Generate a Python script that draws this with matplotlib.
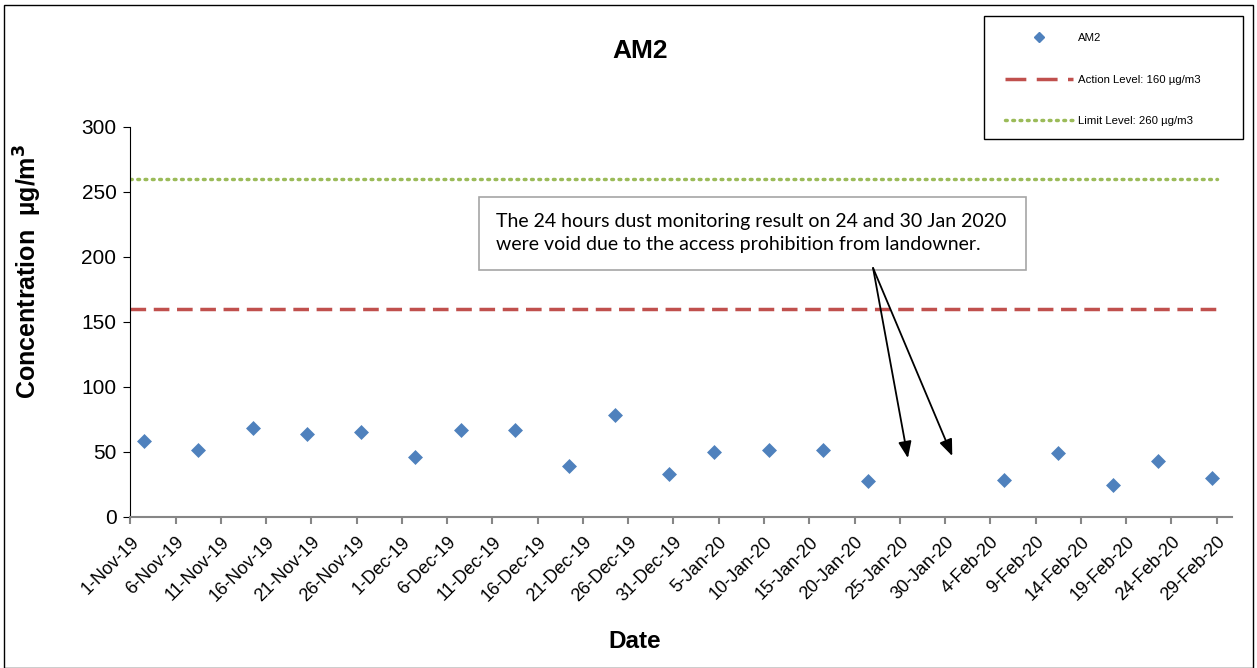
import matplotlib
matplotlib.use("Agg")
import matplotlib.pyplot as plt
import matplotlib.dates as mdates
from matplotlib.lines import Line2D
from matplotlib.patches import Rectangle
import numpy as np
import datetime as dt

plt.rcParams['font.family'] = ['Liberation Sans', 'DejaVu Sans']

# ---- data ----
dates = ["2019-11-02", "2019-11-08", "2019-11-14", "2019-11-20", "2019-11-26",
         "2019-12-02", "2019-12-07", "2019-12-13", "2019-12-19", "2019-12-24",
         "2019-12-30", "2020-01-04", "2020-01-10", "2020-01-16", "2020-01-21",
         "2020-02-05", "2020-02-11", "2020-02-17", "2020-02-22", "2020-02-28"]
am2 = [58.5, 51.5, 68.5, 63.8, 65.1, 46.2, 66.7, 66.4, 39.2, 78.5,
       32.8, 50.0, 51.0, 51.5, 27.7, 28.5, 49.2, 24.4, 42.6, 29.5]
action_level = 160
limit_level = 260
tick_start = "2019-11-01"
tick_end = "2020-02-29"
tick_step_days = 5
legend_labels = ['AM2', 'Action Level: 160 µg/m3', 'Limit Level: 260 µg/m3']
note = ("The 24 hours dust monitoring result on 24 and 30 Jan 2020\n"
        "were void due to the access prohibition from landowner.")

W, H = 1257, 668
fig = plt.figure(figsize=(W / 100, H / 100), dpi=100)
fig.patches.append(Rectangle((0.003, 0.0), 0.994, 0.993, transform=fig.transFigure,
                             fill=False, edgecolor='black', linewidth=1.0))
ax = fig.add_axes([130.3 / W, 1 - 516.7 / H, (1232 - 130.3) / W, 390 / H])

blue, red, green = '#4F81BD', '#C0504D', '#9BBB59'
dash = (0, (4.5, 2.2))
dots = (0, (0.5, 1.6))

x0 = mdates.date2num(dt.datetime.fromisoformat(tick_start))
x1 = mdates.date2num(dt.datetime.fromisoformat(tick_end))
# day-centered positions (date axis, between tick marks)
x = [mdates.date2num(dt.datetime.fromisoformat(d)) + 0.5 for d in dates]
ax.scatter(x, am2, marker='D', s=58, color=blue, zorder=3, linewidths=0)

ax.plot([x0, x1], [action_level] * 2, color=red, lw=2.5, ls=dash)
ax.plot([x0, x1], [limit_level] * 2, color=green, lw=2.5, ls=dots, dash_capstyle='round')

ax.set_xlim(x0, x0 + 121.7)
ax.set_ylim(0, 300)

ticks = np.arange(x0, x1 + 0.1, tick_step_days)
ax.set_xticks(ticks)
labels = [f"{mdates.num2date(t).day}-{mdates.num2date(t).strftime('%b-%y')}" for t in ticks]
ax.set_xticklabels(labels, rotation=45, ha='right', rotation_mode='anchor', fontsize=13)
ax.set_yticks(np.arange(0, 301, 50))
ax.tick_params(axis='y', labelsize=15, direction='out', length=5, color='black', pad=5)
ax.tick_params(axis='x', direction='out', length=5, color='#868686', width=1.5, pad=7)

for s in ['top', 'right']:
    ax.spines[s].set_visible(False)
ax.spines['bottom'].set_color('#868686')
ax.spines['bottom'].set_linewidth(1.5)
ax.spines['left'].set_color('black')

fig.text(640 / W, 1 - 51 / H, 'AM2', fontsize=19, fontweight='bold', ha='center', va='center')
fig.text(635 / W, 1 - 641 / H, 'Date', fontsize=17.5, fontweight='bold', ha='center', va='center')
fig.text(28 / W, 1 - 271 / H, r'Concentration  µg/m$^\mathbf{3}$', fontsize=18,
         fontweight='bold', ha='center', va='center', rotation=90)

# annotation box
ax.add_patch(Rectangle((x0 + 38.53, 189.6), 60.44, 56.3, facecolor='white',
                       edgecolor='#A6A6A6', lw=1.2, zorder=4))
ax.text(x0 + 40.4, 218.3, note, fontsize=14, family=['Lato', 'DejaVu Sans'],
        va='center', ha='left', linespacing=1.38, zorder=5)
tail = (x0 + 82.05, 191.3)
heads = [(x0 + 85.9, 45.1), (x0 + 90.8, 46.7)]
for hx, hy in heads:
    ax.annotate('', xy=(hx, hy), xytext=tail,
                arrowprops=dict(arrowstyle='-|>,head_length=1.0,head_width=0.4',
                                color='black', lw=1.3, shrinkA=0, shrinkB=0), zorder=5)

# legend
fig.patches.append(Rectangle((984 / W, 1 - 139 / H), (1243 - 984) / W, 123 / H,
                             transform=fig.transFigure, fill=False,
                             edgecolor='black', linewidth=1.0))
handles = [Line2D([], [], marker='D', ls='none', color=blue, markersize=5.5),
           Line2D([], [], color=red, lw=2.5, ls=(0, (6, 3))),
           Line2D([], [], color=green, lw=2.5, ls=dots, dash_capstyle='round')]
leg = fig.legend(handles, legend_labels, loc='upper left',
                 bbox_to_anchor=(1005 / W, 1 - 33 / H), fontsize=8.2, frameon=False,
                 borderpad=0, labelspacing=2.78, handlelength=6.0, handletextpad=0.45,
                 borderaxespad=0)

fig.savefig('out.png', dpi=100)
